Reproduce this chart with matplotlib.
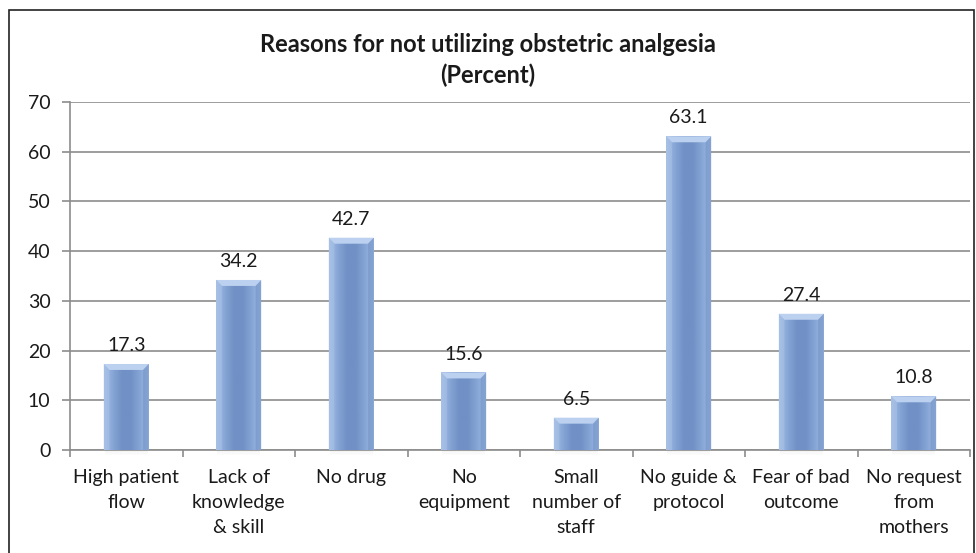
import numpy as np
import matplotlib
matplotlib.use("Agg")
import matplotlib.pyplot as plt
from matplotlib.patches import Polygon, Rectangle
from matplotlib.colors import LinearSegmentedColormap

categories = [
    "High patient\nflow",
    "Lack of\nknowledge\n& skill",
    "No drug",
    "No\nequipment",
    "Small\nnumber of\nstaff",
    "No guide &\nprotocol",
    "Fear of bad\noutcome",
    "No request\nfrom\nmothers",
]
percent = [17.3, 34.2, 42.7, 15.6, 6.5, 63.1, 27.4, 10.8]
y_ticks = [0, 10, 20, 30, 40, 50, 60, 70]

plt.rcParams["font.family"] = ["Lato", "DejaVu Sans"]

fig = plt.figure(figsize=(9.76, 5.53), dpi=100)
ax = fig.add_axes([70 / 976, 103 / 553, 900 / 976, 348 / 553])

# outer chart frame
fig.patches.append(Rectangle((9 / 976, -0.01), 965 / 976, (553 - 10) / 553 + 0.01,
                             transform=fig.transFigure, fill=False,
                             edgecolor="#222222", linewidth=1.2))

x = np.arange(len(categories))
bar_w = 0.4
bars = ax.bar(x, percent, width=bar_w, color="none", edgecolor="none", zorder=3)

# horizontal shading: lighter edges, darker middle
shade = LinearSegmentedColormap.from_list(
    "barshade", ["#a6c0e6", "#86a5d6", "#7191c6", "#7191c6", "#86a5d6", "#a0bbe3"])
grad = np.linspace(0, 1, 256).reshape(1, -1)

for xi, h, patch in zip(x, percent, bars):
    x0, x1 = xi - bar_w / 2, xi + bar_w / 2
    im = ax.imshow(grad, cmap=shade, aspect="auto", extent=(x0, x1, 0, h),
                   zorder=3, interpolation="bicubic")
    im.set_clip_path(patch)
    # bevelled top face
    dx, dy = 0.05, 1.2
    ax.add_patch(Polygon([(x0, h), (x1, h), (x1 - dx, h - dy), (x0 + dx, h - dy)],
                         closed=True, facecolor="#bcd1ef", edgecolor="none", zorder=4))
    ax.add_patch(Polygon([(x0, h), (x0 + dx, h - dy), (x0 + dx, 0), (x0, 0)],
                         closed=True, facecolor="#a8c1e6", edgecolor="none", zorder=4, alpha=0.6))
    ax.add_patch(Polygon([(x1, h), (x1 - dx, h - dy), (x1 - dx, 0), (x1, 0)],
                         closed=True, facecolor="#6d8dc2", edgecolor="none", zorder=4, alpha=0.5))
    # soft shadow beneath the bar
    for k in range(4):
        ax.add_patch(Rectangle((x0 + 0.01, -0.25 * (k + 1)), bar_w - 0.02, 0.25,
                               facecolor="#000000", alpha=0.05 * (4 - k) / 4,
                               edgecolor="none", zorder=2, clip_on=False))
    ax.text(xi, h + 2.0, f"{h}", ha="center", va="bottom", fontsize=14,
            color="#1a1a1a", zorder=5)

ax.set_xlim(-0.5, len(categories) - 0.5)
ax.set_ylim(0, 70)
ax.set_yticks(y_ticks)
ax.set_yticklabels([str(t) for t in y_ticks], fontsize=14, color="#1a1a1a")
ax.set_xticks(np.arange(len(categories) + 1) - 0.5, minor=False)
ax.set_xticklabels([])
ax.set_xticks(x, minor=True)
ax.set_xticklabels(categories, minor=True, fontsize=14, color="#1a1a1a",
                   linespacing=1.55, va="top")
ax.tick_params(axis="x", which="minor", length=0, pad=14)
ax.tick_params(axis="x", which="major", length=5, color="#8c8c8c", width=1.2)
ax.tick_params(axis="y", length=6, color="#8c8c8c", width=1.2, pad=8)

ax.grid(axis="y", color="#8c8c8c", linewidth=1.2, zorder=0)
ax.set_axisbelow(True)
for side in ("top", "right"):
    ax.spines[side].set_visible(False)
for side in ("left", "bottom"):
    ax.spines[side].set_color("#8c8c8c")
    ax.spines[side].set_linewidth(1.2)

fig.text(0.5, 1 - 60 / 553, "Reasons for not utilizing obstetric analgesia\n(Percent)",
         ha="center", va="center", fontsize=17, fontweight="bold",
         color="#1a1a1a", linespacing=1.4)

fig.savefig("out.png", dpi=100)
